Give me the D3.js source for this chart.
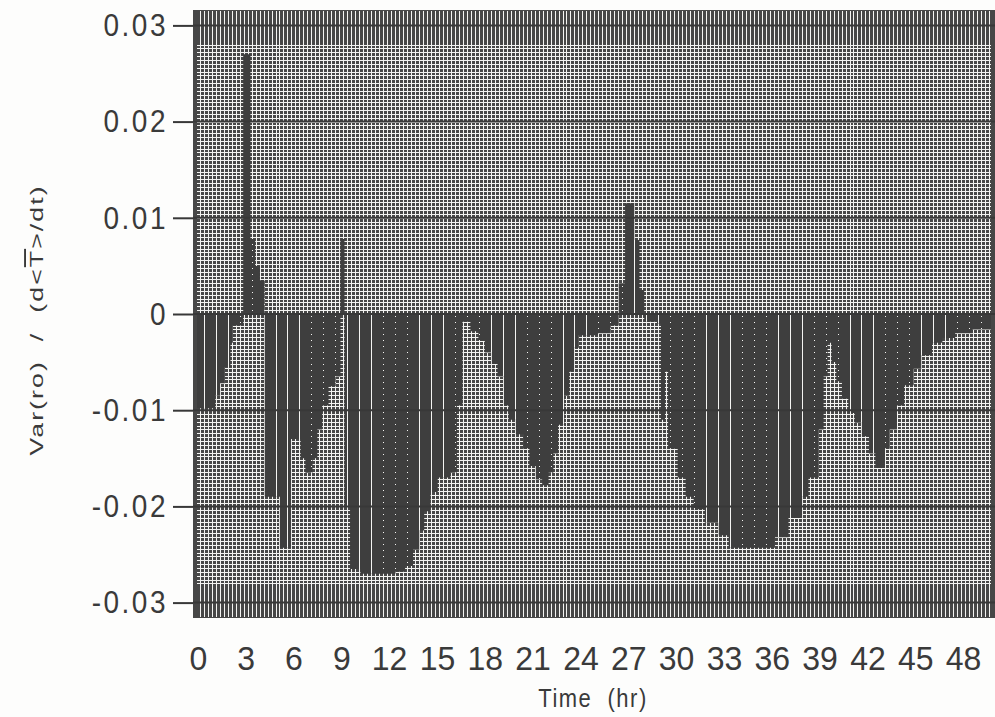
<!DOCTYPE html>
<html>
<head>
<meta charset="utf-8">
<script src="https://cdn.jsdelivr.net/npm/d3@7"></script>
<style>
  body { margin: 0; background: #fdfdfc; }
  svg { display: block; }
  text { font-family: "Liberation Sans", Arial, sans-serif; fill: #3a3a3a; }
</style>
</head>
<body>
<svg id="chart"></svg>
<script>
var WIDTH = 995;
var HEIGHT = 717;

// time (hr) where each step starts, and the value held until the next one
var hours = [
  -0.3, 1.1, 1.4, 1.7, 2.05, 2.2, 2.85, 3.3, 3.6, 3.9,
  4.2, 5.15, 5.85, 6.45, 6.75, 7.2, 7.5, 7.8, 8.2, 8.65,
  8.95, 9.2, 9.55, 10.2, 11.15, 12.4, 13.0, 13.5, 13.9, 14.2,
  14.6, 15.05, 15.85, 16.25, 16.6, 17.1, 17.6, 18.0, 18.4, 18.8,
  19.2, 19.5, 19.95, 20.4, 20.8, 21.2, 21.6, 22.0, 22.3, 22.6,
  23.0, 23.3, 23.6, 23.9, 25.1, 25.9, 26.4, 26.8, 27.4, 27.7,
  28.0, 28.8, 29.05, 29.3, 29.5, 30.1, 30.6, 31.1, 31.8, 32.65,
  33.3, 36.2, 37.05, 37.9, 38.3, 38.95, 39.25, 39.5, 39.75, 40.05,
  40.4, 40.8, 41.2, 41.65, 42.1, 42.5, 43.1, 43.4, 43.85, 44.3,
  44.9, 45.4, 46.05, 46.7, 47.5, 48.6, 50
];
var values = [
  -0.0098, -0.0085, -0.0072, -0.0055, -0.0030, -0.0012, 0.0270, 0.0078, 0.0050, 0.0035,
  -0.0190, -0.0243, -0.0130, -0.0150, -0.0165, -0.0150, -0.0120, -0.0095, -0.0075, -0.0065,
  0.0078, -0.0200, -0.0265, -0.0270, -0.0270, -0.0268, -0.0262, -0.0245, -0.0225, -0.0205,
  -0.0185, -0.0170, -0.0165, -0.0095, -0.0008, -0.0018, -0.0028, -0.0040, -0.0052, -0.0065,
  -0.0095, -0.0110, -0.0125, -0.0140, -0.0158, -0.0172, -0.0178, -0.0165, -0.0145, -0.0115,
  -0.0085, -0.0060, -0.0035, -0.0022, -0.0020, -0.0012, 0.0032, 0.0115, 0.0077, 0.0025,
  -0.0008, -0.0010, -0.0110, -0.0060, -0.0140, -0.0170, -0.0190, -0.0203, -0.0217, -0.0230,
  -0.0243, -0.0232, -0.0212, -0.0190, -0.0170, -0.0120, -0.0065, -0.0030, -0.0050, -0.0070,
  -0.0088, -0.0103, -0.0113, -0.0127, -0.0145, -0.0160, -0.0140, -0.0120, -0.0095, -0.0074,
  -0.0057, -0.0043, -0.0030, -0.0025, -0.0020, -0.0016, -0.0016
];

var xTicks = d3.range(0, 49, 3);
var yTicks = [0.03, 0.02, 0.01, 0, -0.01, -0.02, -0.03];
var yTickLabels = ['0.03', '0.02', '0.01', '0', '-0.01', '-0.02', '-0.03'];

var data = hours.map(function(h, i) { return { t: h, v: values[i] }; });

var plotL = 193, plotR = 995, plotT = 10, plotB = 618;

var svg = d3.select('#chart').attr('width', WIDTH).attr('height', HEIGHT);

var xScale = d3.scaleLinear().domain([-0.3, 50]).range([plotL, plotR]);
var yScale = d3.scaleLinear().domain([-0.0316, 0.0316]).range([plotB, plotT]);

var CELL = '#474747';
var INK = '#3e3e3e';
var PAPER = '#f4f4f2';

// plot background
svg.append('rect')
  .attr('x', plotL).attr('y', plotT)
  .attr('width', plotR - plotL).attr('height', plotB - plotT)
  .attr('fill', CELL);

// fine mesh (minor grid)
var mesh = svg.append('g').attr('shape-rendering', 'crispEdges');
var minorX = d3.range(0, 199).map(function(i) { return 0.125 + i * 0.25; });
var minorY = d3.range(-70, 71).map(function(i) { return i * 0.0004; });

mesh.selectAll('line.vx')
  .data(minorX)
  .enter()
  .append('line')
  .attr('x1', function(d) { return Math.round(xScale(d)); })
  .attr('x2', function(d) { return Math.round(xScale(d)); })
  .attr('y1', plotT + 1).attr('y2', plotB - 1)
  .attr('stroke', PAPER).attr('stroke-width', 1);

mesh.selectAll('line.hy')
  .data(minorY)
  .enter()
  .append('line')
  .attr('x1', plotL + 3).attr('x2', plotR - 3)
  .attr('y1', function(d) { return Math.round(yScale(d)); })
  .attr('y2', function(d) { return Math.round(yScale(d)); })
  .attr('stroke', PAPER).attr('stroke-width', 1);

// data area
var area = d3.area()
  .x(function(d) { return xScale(d.t); })
  .y0(yScale(0))
  .y1(function(d) { return yScale(d.v); })
  .curve(d3.curveStepAfter);

svg.append('clipPath').attr('id', 'dataClip')
  .append('path').attr('d', area(data));

svg.append('path')
  .datum(data)
  .attr('d', area)
  .attr('fill', INK);

// white stripes showing through the filled area
var stripes = d3.range(0, 66).map(function(k) { return 0.375 + k * 0.75; });
svg.append('g')
  .attr('clip-path', 'url(#dataClip)')
  .attr('shape-rendering', 'crispEdges')
  .selectAll('line')
  .data(stripes)
  .enter()
  .append('line')
  .attr('x1', function(d) { return Math.round(xScale(d)); })
  .attr('x2', function(d) { return Math.round(xScale(d)); })
  .attr('y1', plotT).attr('y2', plotB)
  .attr('stroke', PAPER)
  .attr('stroke-width', 1)
  .attr('stroke-dasharray', function(d, i) { return Math.floor(i / 3) % 2 === 0 ? null : '1,5'; });

// left and right frame columns
svg.append('rect').attr('x', plotL).attr('y', plotT).attr('width', 4).attr('height', plotB - plotT).attr('fill', CELL);
svg.append('rect').attr('x', plotR - 4).attr('y', plotT).attr('width', 4).attr('height', plotB - plotT).attr('fill', CELL);

// major gridlines
svg.append('g')
  .selectAll('line')
  .data(yTicks)
  .enter()
  .append('line')
  .attr('x1', plotL).attr('x2', plotR)
  .attr('y1', function(d) { return yScale(d); })
  .attr('y2', function(d) { return yScale(d); })
  .attr('stroke', '#383838').attr('stroke-width', 2);

// y axis
var yAxis = d3.axisLeft(yScale)
  .tickValues(yTicks)
  .tickSize(20)
  .tickPadding(5)
  .tickFormat(function(d, i) { return yTickLabels[i]; });

var gy = svg.append('g').attr('transform', 'translate(' + plotL + ',0)').call(yAxis);
gy.select('.domain').remove();
gy.selectAll('.tick line').attr('stroke', '#383838').attr('stroke-width', 2);
gy.selectAll('.tick text')
  .attr('fill', '#3a3a3a')
  .attr('transform', 'scale(1,1.15)')
  .style('font-size', '28px')
  .style('letter-spacing', '2.5px')
  .style('font-family', '"Liberation Sans", Arial, sans-serif');

// x axis labels
var xAxis = d3.axisBottom(xScale)
  .tickValues(xTicks)
  .tickSize(0)
  .tickPadding(27)
  .tickFormat(d3.format('d'));

var gx = svg.append('g').attr('transform', 'translate(0,' + plotB + ')').call(xAxis);
gx.select('.domain').remove();
gx.selectAll('.tick text')
  .attr('fill', '#3a3a3a')
  .attr('transform', 'scale(1,1.05)')
  .style('font-size', '32px')
  .style('font-family', '"Liberation Sans", Arial, sans-serif');

// axis titles
svg.append('text')
  .attr('transform', 'translate(593,707) scale(1,1.2)')
  .attr('text-anchor', 'middle')
  .style('font-size', '22px')
  .style('letter-spacing', '1.5px')
  .style('white-space', 'pre')
  .text('Time  (hr)');

var yTitle = svg.append('text')
  .attr('transform', 'translate(43,320) rotate(-90) scale(1.4,1)')
  .attr('text-anchor', 'middle')
  .style('font-size', '19px')
  .style('letter-spacing', '1.5px')
  .style('white-space', 'pre');
yTitle.append('tspan').text('Var(ro)  /  (d<');
yTitle.append('tspan').style('text-decoration', 'overline').text('T');
yTitle.append('tspan').text('>/dt)');
</script>
</body>
</html>
